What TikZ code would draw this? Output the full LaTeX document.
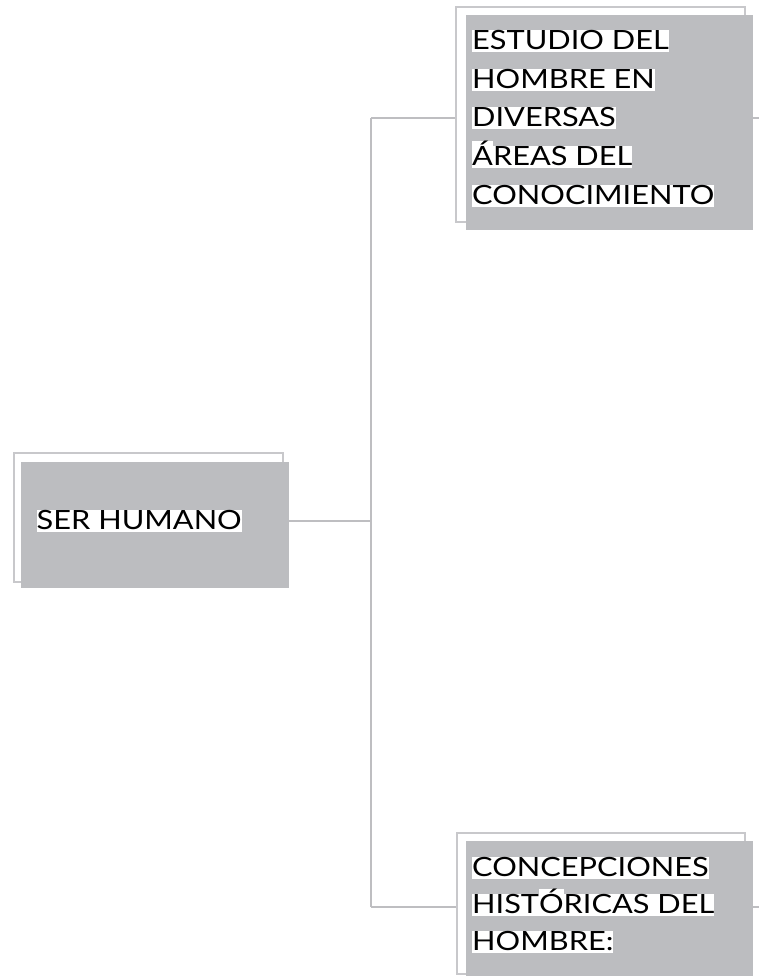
\documentclass[tikz,border=0pt]{standalone}
\usepackage{fontspec}
\setmainfont[FakeStretch=1.16]{Lato}
\definecolor{boxgray}{RGB}{188,189,192}
\definecolor{linegray}{RGB}{190,190,193}
\definecolor{framegray}{RGB}{200,200,203}
\newcommand{\hlcap}[1]{{\setlength{\fboxsep}{0pt}\colorbox{white}{\rule[-2pt]{0pt}{21.5pt}\smash{#1}}}}
\newcommand{\hlnat}[1]{{\setlength{\fboxsep}{0pt}\colorbox{white}{\rule[-2pt]{0pt}{2pt}#1}}}
\tikzset{
  frame/.style={draw=framegray, line width=2.5pt, fill=white, rectangle, inner sep=0pt},
  grbox/.style={fill=boxgray, draw=none, rectangle, inner sep=0pt},
  conn/.style={draw=linegray, line width=2pt},
  txt/.style={inner sep=0pt, anchor=base west, font=\fontsize{26.5}{32}\selectfont, text=black}
}
\begin{document}
\begin{tikzpicture}[x=1pt,y=-1pt]
\useasboundingbox (0,0) rectangle (759,976);
% junctions
\coordinate (jt) at (371,118);
\coordinate (jm) at (371,521);
\coordinate (jb) at (371,907);
\coordinate (et) at (759,118);
\coordinate (eb) at (759,907);
% frames and boxes
\node[frame, minimum width=289pt, minimum height=215pt] (ftop) at (600.5,114.5) {};
\node[grbox, minimum width=287pt, minimum height=215pt] (gtop) at (609.5,122.5) {};
\node[frame, minimum width=269pt, minimum height=129pt] (fsh) at (148.5,517.5) {};
\node[grbox, minimum width=268pt, minimum height=126pt] (gsh) at (155,525) {};
\node[frame, minimum width=288pt, minimum height=141pt] (fbot) at (601,903.5) {};
\node[grbox, minimum width=287pt, minimum height=135pt] (gbot) at (609.5,908.5) {};
% connectors
\draw[conn] (jt) -- (jb);
\draw[conn] (gsh.east |- jm) -- (jm);
\draw[conn] (jt) -- (jt -| ftop.west);
\draw[conn] (jb) -- (jb -| fbot.west);
\draw[conn] (gtop.east |- jt) -- (et);
\draw[conn] (gbot.east |- jb) -- (eb);
% texts
\node[txt] (t1) at (472,50) {\hlcap{ESTUDIO DEL}};
\node[txt] (t2) at (472,89) {\hlcap{HOMBRE EN}};
\node[txt] (t3) at (472,127) {\hlcap{DIVERSAS}};
\node[txt] (t4) at (472,166) {\hlnat{Á}\hlcap{REAS DEL}};
\node[txt] (t5) at (472,204.5) {\hlcap{CONOCIMIENTO}};
\node[txt] (s1) at (36.5,529.5) {\hlcap{SER HUMANO}};
\node[txt] (b1) at (472,876.5) {\hlcap{CONCEPCIONES}};
\node[txt] (b2) at (472,913.5) {\hlcap{HIST}\hlnat{Ó}\hlcap{RICAS DEL}};
\node[txt] (b3) at (472,950.5) {\hlcap{HOMBRE:}};
\end{tikzpicture}
\end{document}
